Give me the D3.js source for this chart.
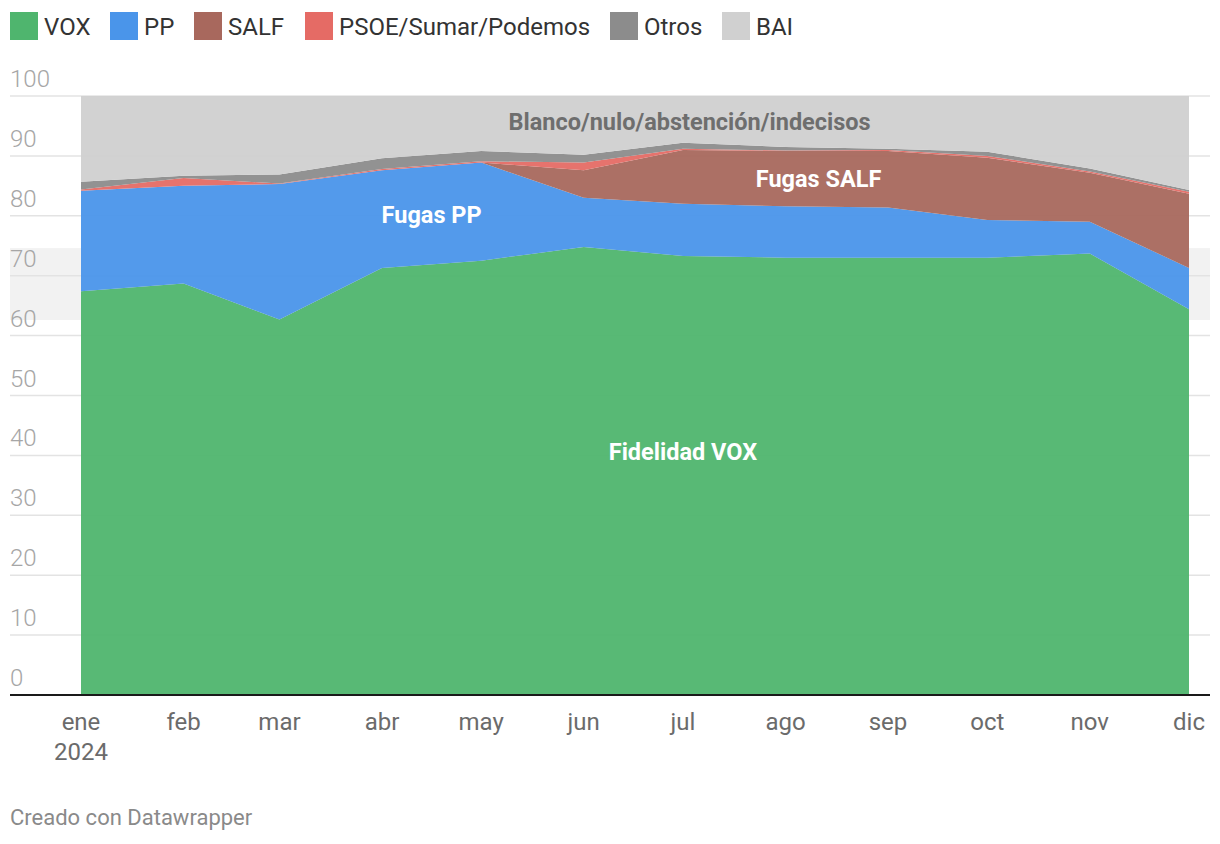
<!DOCTYPE html>
<html>
<head>
<meta charset="utf-8">
<script src="https://cdn.jsdelivr.net/npm/d3@7"></script>
<style>
  body { margin: 0; background: #fff; font-family: Roboto, "Noto Sans", sans-serif; }
  svg text { font-family: Roboto, "Noto Sans", sans-serif; }
</style>
</head>
<body>
<svg id="chart" width="1220" height="844"></svg>
<script>
// monthly values (percent), stacked bottom to top
const months = ["ene", "feb", "mar", "abr", "may", "jun", "jul", "ago", "sep", "oct", "nov", "dic"];
const vox   = [67.4, 68.7, 62.7, 71.3, 72.5, 74.8, 73.3, 73.0, 73.0, 73.0, 73.7, 64.4];
const pp    = [16.8, 16.3, 22.6, 16.3, 16.4,  8.2,  8.7,  8.6,  8.4,  6.3,  5.3,  6.9];
const salf  = [ 0.0,  0.0,  0.0,  0.0,  0.0,  4.6,  9.0,  9.2,  9.4, 10.4,  8.2, 12.4];
const psoe  = [ 0.2,  1.3,  0.1,  0.2,  0.2,  1.3,  0.2,  0.1,  0.2,  0.3,  0.2,  0.3];
const otros = [ 1.3,  0.4,  1.5,  1.8,  1.7,  1.3,  1.0,  0.6,  0.2,  0.7,  0.5,  0.3];

const keys = ["VOX", "PP", "SALF", "PSOE/Sumar/Podemos", "Otros", "BAI"];
const colors = ["#4fb56e", "#4a95ea", "#a8685d", "#e56b65", "#8c8c8c", "#d0d0d0"];
const yTicks = [0, 10, 20, 30, 40, 50, 60, 70, 80, 90, 100];
const highlight = [62.6, 74.6];

const rows = months.map((m, i) => {
  const r = { date: new Date(2024, i, 1) };
  r["VOX"] = vox[i];
  r["PP"] = pp[i];
  r["SALF"] = salf[i];
  r["PSOE/Sumar/Podemos"] = psoe[i];
  r["Otros"] = otros[i];
  r["BAI"] = 100 - (vox[i] + pp[i] + salf[i] + psoe[i] + otros[i]);
  return r;
});

const svg = d3.select("#chart");
const plotLeft = 81, plotRight = 1189, plotTop = 96, plotBottom = 695;
const fullLeft = 10, fullRight = 1210;

const x = d3.scaleTime()
  .domain([new Date(2024, 0, 1), new Date(2024, 11, 1)])
  .range([plotLeft, plotRight]);
const y = d3.scaleLinear().domain([0, 100]).range([plotBottom, plotTop]);

// highlighted range band
svg.append("rect")
  .attr("x", fullLeft)
  .attr("width", fullRight - fullLeft)
  .attr("y", y(highlight[1]))
  .attr("height", y(highlight[0]) - y(highlight[1]))
  .attr("fill", "#f2f2f2");

// gridlines + labels
const grid = svg.append("g");
yTicks.filter(d => d > 0).forEach(d => {
  grid.append("line")
    .attr("x1", fullLeft).attr("x2", fullRight)
    .attr("y1", y(d)).attr("y2", y(d))
    .attr("stroke", "#e3e3e3").attr("stroke-width", 1.5);
});
yTicks.forEach(d => {
  grid.append("text")
    .attr("x", fullLeft)
    .attr("y", y(d) - 9)
    .attr("fill", "#a6a6a6")
    .attr("font-size", 24)
    .attr("font-weight", 300)
    .text(d);
});

// stacked areas
const stack = d3.stack().keys(keys);
const series = stack(rows);
const area = d3.area()
  .x(d => x(d.data.date))
  .y0(d => y(d[0]))
  .y1(d => y(d[1]));

svg.append("g")
  .selectAll("path")
  .data(series)
  .join("path")
  .attr("fill", (d, i) => colors[i])
  .attr("fill-opacity", 0.95)
  .attr("d", area);

// baseline
svg.append("line")
  .attr("x1", fullLeft).attr("x2", fullRight)
  .attr("y1", y(0)).attr("y2", y(0))
  .attr("stroke", "#1a1a1a").attr("stroke-width", 2);

// x axis labels
const xAxis = svg.append("g");
rows.forEach((r, i) => {
  xAxis.append("text")
    .attr("x", x(r.date))
    .attr("y", 730)
    .attr("text-anchor", "middle")
    .attr("fill", "#6b6b6b")
    .attr("font-size", 24)
    .text(months[i]);
});
xAxis.append("text")
  .attr("x", x(rows[0].date))
  .attr("y", 760)
  .attr("text-anchor", "middle")
  .attr("fill", "#6b6b6b")
  .attr("font-size", 24)
  .text("2024");

// annotations on areas
const labels = [
  { text: "Blanco/nulo/abstención/indecisos", date: new Date(2024, 6, 3), value: 94.3, color: "#6e6e6e" },
  { text: "Fugas SALF", date: new Date(2024, 7, 11), value: 84.8, color: "#fff" },
  { text: "Fugas PP", date: new Date(2024, 3, 16), value: 78.8, color: "#fff" },
  { text: "Fidelidad VOX", date: new Date(2024, 6, 1), value: 39.2, color: "#fff" }
];
svg.append("g")
  .selectAll("text")
  .data(labels)
  .join("text")
  .attr("x", d => x(d.date))
  .attr("y", d => y(d.value))
  .attr("text-anchor", "middle")
  .attr("font-size", 23.5)
  .attr("font-weight", 700)
  .attr("fill", d => d.color)
  .text(d => d.text);

// legend
const legendX = [10, 110, 194, 305, 610, 722];
const legend = svg.append("g");
keys.forEach((k, i) => {
  legend.append("rect")
    .attr("x", legendX[i]).attr("y", 12)
    .attr("width", 28).attr("height", 28)
    .attr("fill", colors[i]);
  legend.append("text")
    .attr("x", legendX[i] + 34).attr("y", 35)
    .attr("fill", "#333")
    .attr("font-size", 24)
    .text(k);
});

// credit
svg.append("text")
  .attr("x", 10).attr("y", 825)
  .attr("fill", "#8a8a8a")
  .attr("font-size", 22)
  .text("Creado con Datawrapper");
</script>
</body>
</html>
